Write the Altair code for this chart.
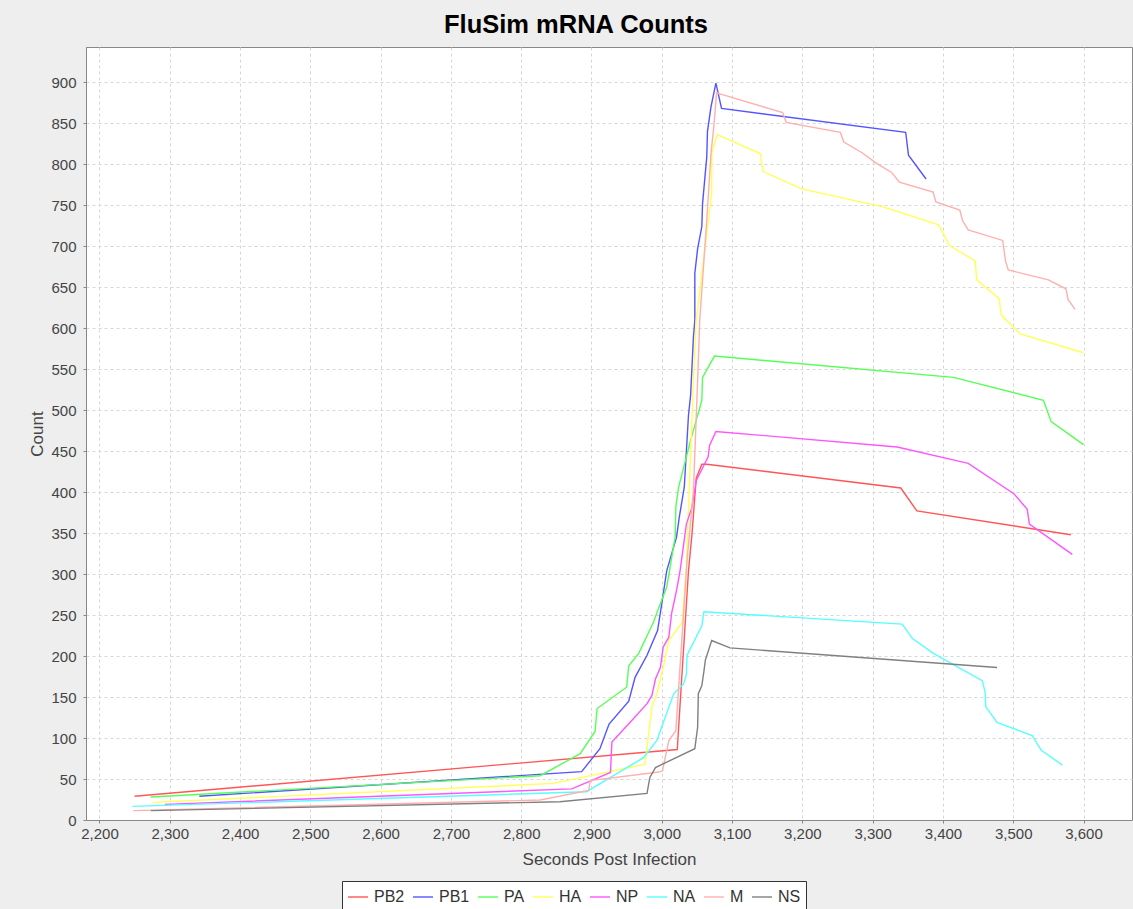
import altair as alt
import pandas as pd

# ---- data ----
series_names = ["PB2", "PB1", "PA", "HA", "NP", "NA", "M", "NS"]
series_colors = ["#FF5555", "#5555FF", "#55FF55", "#FFFF55",
                 "#FF55FF", "#55FFFF", "#FFAFAF", "#808080"]

pb2_x = [2250, 3022, 3038, 3043, 3049, 3057, 3064, 3340, 3363, 3582]
pb2_y = [29, 86, 304, 349, 417, 434, 434, 405, 377, 348]

pb1_x = [2342, 2886, 2912, 2925, 2953, 2962, 2979, 2994, 3000, 3007, 3021, 3025,
         3032, 3038, 3041, 3045, 3047, 3047, 3051, 3057, 3058, 3064, 3065, 3070,
         3077, 3085, 3347, 3351, 3376]
pb1_y = [29, 59, 87, 117, 145, 174, 201, 231, 264, 304, 345, 370,
         406, 494, 518, 589, 610, 667, 697, 724, 752, 809, 840, 870,
         899, 868, 839, 811, 782]

pa_x = [2273, 2827, 2884, 2905, 2908, 2950, 2953, 2967, 2988, 2998, 3007, 3019,
        3020, 3024, 3040, 3057, 3058, 3075, 3415, 3543, 3554, 3600]
pa_y = [28, 54, 81, 108, 136, 162, 188, 203, 241, 264, 284, 345,
        382, 406, 460, 512, 540, 566, 540, 512, 486, 458]

ha_x = [2276, 2846, 2976, 2986, 2993, 3002, 3007, 3010, 3029, 3035, 3045, 3049,
        3071, 3071, 3079, 3140, 3144, 3199, 3315, 3394, 3409, 3446, 3448, 3480,
        3483, 3510, 3600]
ha_y = [21.5, 44.7, 68, 138, 154, 186, 207, 219, 241, 310, 536, 610,
        764, 813, 836, 813, 791, 770, 748, 726, 701, 682, 659, 636,
        616, 593, 570]

np_x = [2293, 2872, 2927, 2929, 2957, 2979, 2986, 2991, 2998, 3002, 3010, 3014,
        3021, 3026, 3035, 3043, 3049, 3066, 3068, 3077, 3335, 3436, 3501, 3520,
        3523, 3584]
np_y = [19, 38, 58, 95, 121, 142, 152, 172, 186, 211, 223, 252,
        280, 304, 361, 382, 414, 443, 457, 474, 455, 435, 398, 379,
        361, 324]

na_x = [2247, 2893, 2927, 2974, 2993, 3017, 3031, 3035, 3036, 3057, 3060, 3342,
        3357, 3387, 3456, 3460, 3461, 3477, 3527, 3540, 3570]
na_y = [16.6, 34.5, 52, 76, 97, 154, 166, 178, 201, 237, 254, 239,
        221, 203, 170, 156, 138, 119, 103, 85, 67]

m_x = [2248, 2827, 2896, 2898, 2996, 3001, 3010, 3020, 3036, 3045, 3051, 3054,
       3064, 3070, 3074, 3078, 3172, 3177, 3254, 3259, 3285, 3304, 3327, 3338,
       3386, 3390, 3424, 3428, 3436, 3485, 3489, 3493, 3550, 3575, 3578, 3588]
m_y = [11.4, 24.4, 36, 48, 58.5, 60, 97, 109, 317, 402, 536, 610,
       732, 813, 846, 887, 863, 851, 839, 827, 814, 802, 790, 778,
       766, 754, 744, 731, 720, 707, 682, 671, 659, 648, 635, 623]

ns_x = [2273, 2855, 2979, 2983, 2991, 3047, 3051, 3052, 3057, 3060, 3062, 3071,
        3097, 3477]
ns_y = [11.4, 22.3, 32.5, 52, 64, 87, 113, 154, 164, 182, 195, 219,
        210, 186]

x_ticks = list(range(2200, 3601, 100))
y_ticks = list(range(0, 901, 50))

all_x = [pb2_x, pb1_x, pa_x, ha_x, np_x, na_x, m_x, ns_x]
all_y = [pb2_y, pb1_y, pa_y, ha_y, np_y, na_y, m_y, ns_y]

rows = []
for name, xs, ys in zip(series_names, all_x, all_y):
    for i, (xv, yv) in enumerate(zip(xs, ys)):
        rows.append({"series": name, "seconds": xv, "count": yv, "idx": i})
df = pd.DataFrame(rows)

FONT = "Liberation Sans"

chart = alt.Chart(df).mark_line(strokeWidth=1.4).encode(
    x=alt.X("seconds:Q",
            scale=alt.Scale(domain=[2180.8, 3669], nice=False, zero=False),
            axis=alt.Axis(values=x_ticks, format=",d", title="Seconds Post Infection",
                          labelFont=FONT, labelFontSize=15, labelColor="#444444",
                          labelBaseline="alphabetic", labelPadding=15,
                          tickSize=3, tickColor="#888888",
                          domainColor="#888888",
                          titleFont=FONT, titleFontSize=17, titleFontWeight="normal",
                          titleColor="#444444", titleBaseline="alphabetic", titleY=44,
                          grid=True, gridColor="#D6D6D6", gridDash=[3, 3], gridWidth=1)),
    y=alt.Y("count:Q",
            scale=alt.Scale(domain=[0, 943], nice=False, zero=False),
            axis=alt.Axis(values=y_ticks, format="d", title="Count",
                          labelFont=FONT, labelFontSize=15, labelColor="#444444",
                          labelPadding=7, tickSize=3, tickColor="#888888",
                          domainColor="#888888",
                          titleFont=FONT, titleFontSize=17, titleFontWeight="normal",
                          titleColor="#444444", titleBaseline="alphabetic",
                          titleX=-44,
                          grid=True, gridColor="#D6D6D6", gridDash=[3, 3], gridWidth=1)),
    color=alt.Color("series:N",
                    scale=alt.Scale(domain=series_names, range=series_colors),
                    legend=alt.Legend(orient="none", legendX=256, legendY=834,
                                      direction="horizontal", columns=8, title=None,
                                      symbolType="stroke", symbolSize=400,
                                      symbolStrokeWidth=1.4,
                                      labelFont=FONT, labelFontSize=16,
                                      labelColor="#333333", labelOffset=5,
                                      columnPadding=5, padding=5,
                                      strokeColor="#333333", fillColor="white")),
    order=alt.Order("idx:Q"),
).properties(
    width=1046,
    height=773,
    title=alt.TitleParams("FluSim mRNA Counts", font=FONT, fontSize=25.5,
                          fontWeight="bold", color="#000000", anchor="middle",
                          dx=-33, offset=9),
    padding={"left": 86, "top": 47, "right": 1, "bottom": 89},
    autosize="none",
    background="#EEEEEE",
).configure_view(fill="white", stroke="#888888", strokeWidth=1)

chart.save("out.html", embed_options={"renderer": "svg", "actions": False})
